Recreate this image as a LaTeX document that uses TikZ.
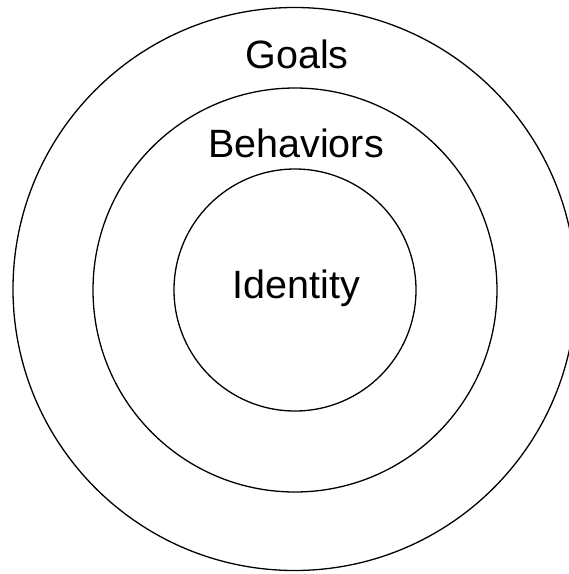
\documentclass[tikz,border=0pt]{standalone}
\usepackage{fontspec}
\setmainfont{Liberation Sans}
\begin{document}
\begin{tikzpicture}[x=1pt,y=-1pt,
  ring/.style={draw=black,line width=1.3pt,circle,inner sep=0pt},
  lbl/.style={font=\fontsize{39.5}{42}\selectfont,text=black,inner sep=0pt,anchor=base}]
\useasboundingbox (0,0) rectangle (569,574);
\begin{scope}
\clip (0,0) rectangle (569,574);
\node[ring,minimum size=563pt] (outer) at (294.5,289) {};
\end{scope}
\node[ring,minimum size=404pt] (middle) at (295,290) {};
\node[ring,minimum size=242pt] (inner) at (295,290) {};
\node[lbl] (goals) at (297,68) {Goals};
\node[lbl] (beh) at (296,157) {Behaviors};
\node[lbl] (ident) at (296.5,298) {Identity};
\end{tikzpicture}
\end{document}
